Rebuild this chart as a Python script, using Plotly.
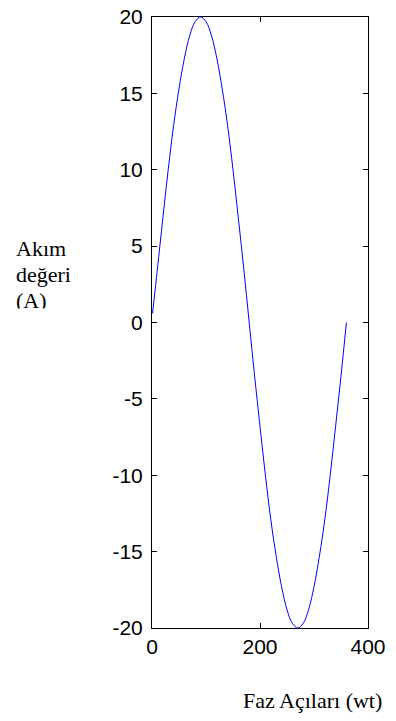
import plotly.graph_objects as go

# Phase angle (degrees) and current value (A)
phase_deg = [1, 10, 20, 30, 40, 50, 60, 70, 80, 90, 100, 110, 120, 130, 140, 150,
             160, 170, 180, 190, 200, 210, 220, 230, 240, 250, 260, 270, 280, 290,
             300, 310, 320, 330, 340, 350, 360]
current_a = [0.6, 3.5, 6.8, 10.0, 12.9, 15.3, 17.3, 18.8, 19.7, 20.0, 19.7, 18.8,
             17.3, 15.3, 12.9, 10.0, 6.8, 3.5, 0.0, -3.5, -6.8, -10.0, -12.9, -15.3,
             -17.3, -18.8, -19.7, -20.0, -19.7, -18.8, -17.3, -15.3, -12.9, -10.0,
             -6.8, -3.5, 0.0]

x_ticks = [0, 200, 400]
y_ticks = [-20, -15, -10, -5, 0, 5, 10, 15, 20]
y_title_lines = ["Akım", "değeri", "(A)"]
y_title_rows = [249, 274, 300]  # vertical centre of each title line, px

# plot box in pixels
L, R, T, B = 152, 368, 17, 628
W, H = R - L, B - T


def px(x):
    return (x - L) / W


def py(y):
    return (B - y) / H


fig = go.Figure()
fig.add_trace(go.Scatter(
    x=phase_deg, y=current_a, mode="lines",
    line=dict(color="#0000ff", width=1, shape="spline"),
    showlegend=False,
))

tick_font = dict(family="Liberation Sans, Arial, sans-serif", size=21, color="black")
axis_common = dict(
    showgrid=False, zeroline=False, showline=True, linecolor="black", linewidth=1,
    mirror="ticks", ticks="inside", ticklen=5, tickcolor="black", tickwidth=1,
    tickfont=tick_font,
)

serif = dict(family="Liberation Serif, Times New Roman, serif", size=22, color="black")

annotations = []
for line, row in zip(y_title_lines, y_title_rows):
    annotations.append(dict(
        text=line, xref="paper", yref="paper", x=px(14), y=py(row),
        xanchor="left", yanchor="middle", showarrow=False, font=serif))
# white mask trimming the lower part of the last title line
annotations.append(dict(
    text=" ", xref="paper", yref="paper", x=px(5), y=py(308),
    xanchor="left", yanchor="top", showarrow=False, width=80, height=20,
    bgcolor="white", borderpad=0, font=dict(size=10)))
annotations.append(dict(
    text="Faz Açıları (wt)", xref="paper", yref="paper",
    x=px(312), y=py(700), xanchor="center", yanchor="middle",
    showarrow=False, font=serif))

fig.update_layout(
    width=396, height=721,
    margin=dict(l=L, r=396 - R, t=T, b=721 - B, autoexpand=False),
    paper_bgcolor="white", plot_bgcolor="white",
    xaxis=dict(range=[0, 400], tickvals=x_ticks, ticktext=[str(v) for v in x_ticks],
               **axis_common),
    yaxis=dict(range=[-20, 20], tickvals=y_ticks, ticktext=[str(v) for v in y_ticks],
               ticklabelstandoff=4, **axis_common),
    annotations=annotations,
)

fig.write_html("out.html")
